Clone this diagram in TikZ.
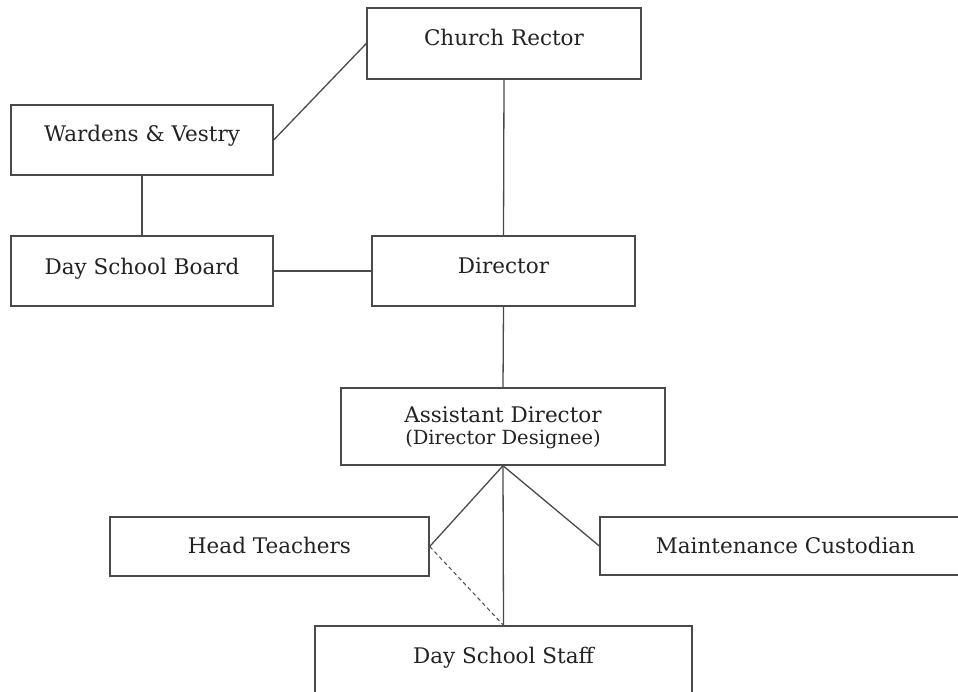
\documentclass[tikz,border=0pt]{standalone}
\usepackage{fontspec}
\setmainfont{DejaVu Serif}
\definecolor{boxline}{HTML}{4A4A4A}
\definecolor{inktext}{HTML}{222222}
\begin{document}
\begin{tikzpicture}[x=1pt,y=-1pt,
  orgbox/.style={draw=boxline, line width=1.4pt, inner sep=0pt, fill=white},
  txt/.style={anchor=base, text=inktext, inner sep=0pt, font=\fontsize{21.5}{24}\selectfont},
  subtxt/.style={anchor=base, text=inktext, inner sep=0pt, font=\fontsize{19.5}{22}\selectfont},
  conn/.style={draw=boxline, line width=1.3pt}
]
\useasboundingbox (0,0) rectangle (958,692);
\clip (0,0) rectangle (958,692);

\node[orgbox, minimum width=274pt, minimum height=71pt,
  label={[txt, yshift=-38pt]north:Church Rector}] (cr) at (504,43.5) {};
\node[orgbox, minimum width=262pt, minimum height=70pt,
  label={[txt, yshift=-37.5pt]north:Wardens \& Vestry}] (wv) at (142,140) {};
\node[orgbox, minimum width=262pt, minimum height=70pt,
  label={[txt, yshift=-39pt]north:Day School Board}] (dsb) at (142,271) {};
\node[orgbox, minimum width=263pt, minimum height=70pt,
  label={[txt, yshift=-38.5pt]north:Director}] (dir) at (503.5,271) {};
\node[orgbox, minimum width=324pt, minimum height=77pt,
  label={[txt, yshift=-35pt]north:Assistant Director},
  label={[subtxt, yshift=-57pt]north:(Director Designee)}] (ad) at (503,426.5) {};
\node[orgbox, minimum width=319pt, minimum height=59pt,
  label={[txt, yshift=-37pt]north:Head Teachers}] (ht) at (269.5,546.5) {};
\node[orgbox, minimum width=371pt, minimum height=58pt,
  label={[txt, yshift=-37pt]north:Maintenance Custodian}] (mc) at (785.5,546) {};
\node[orgbox, minimum width=377pt, minimum height=71pt,
  label={[txt, yshift=-38pt]north:Day School Staff}] (dss) at (503.5,661.5) {};

\draw[conn] (wv.east) -- (cr.west);
\draw[conn] (cr.south) -- (dir.north);
\draw[conn] (wv.south) -- (dsb.north);
\draw[conn] (dsb.east) -- (dir.west);
\draw[conn] (dir.south) -- (ad.north);
\draw[conn] (ad.south) -- (ht.east);
\draw[conn] (ad.south) -- (mc.west);
\draw[conn] (ad.south) -- (dss.north);
\draw[conn, line width=1pt, dash pattern=on 4pt off 3pt] (ht.east) -- (dss.north);
\end{tikzpicture}
\end{document}
